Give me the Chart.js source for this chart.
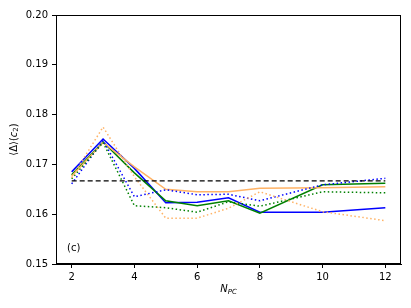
<!DOCTYPE html>
<html>
<head>
<meta charset="utf-8">
<script src="https://cdn.jsdelivr.net/npm/chart.js@4/dist/chart.umd.min.js"></script>
<style>
  html, body { margin: 0; padding: 0; background: #fff; }
  canvas { display: block; }
</style>
</head>
<body>
<canvas id="chartCanvas" width="411" height="308"></canvas>
<script>
// Daten
const nPC = [2, 3, 4, 5, 6, 7, 8, 10, 12];
const blueSolid   = [0.1685, 0.1751, 0.1692, 0.1623, 0.1624, 0.1633, 0.1604, 0.1604, 0.1613];
const greenSolid  = [0.1679, 0.1745, 0.1683, 0.1627, 0.1617, 0.1627, 0.1602, 0.1659, 0.1662];
const orangeSolid = [0.1676, 0.1744, 0.1695, 0.1650, 0.1645, 0.1645, 0.1652, 0.1653, 0.1655];
const blueDotted   = [0.1661, 0.1748, 0.1635, 0.1649, 0.1639, 0.1640, 0.1627, 0.1659, 0.1672];
const greenDotted  = [0.1671, 0.1744, 0.1617, 0.1613, 0.1604, 0.1625, 0.1616, 0.1645, 0.1643];
const orangeDotted = [0.1673, 0.1775, 0.1675, 0.1592, 0.1592, 0.1612, 0.1645, 0.1605, 0.1587];
const refX = [2, 12];
const refY = [0.1667, 0.1667];
const xTicks = [2, 4, 6, 8, 10, 12];
const yTicks = [0.15, 0.16, 0.17, 0.18, 0.19, 0.20];

const FONT = 'DejaVu Sans';
const toPts = (xs, ys) => xs.map((x, i) => ({ x, y: ys[i] }));

function line(data, color, dash) {
  return {
    data: toPts(nPC, data),
    borderColor: color,
    borderWidth: 1.5,
    borderDash: dash,
    pointRadius: 0,
    tension: 0,
    fill: false
  };
}

// Rahmen, Achsentitel und Panel-Label
const extras = {
  id: 'extras',
  afterDraw(c) {
    const ctx = c.ctx;
    const a = c.chartArea;
    ctx.save();
    ctx.strokeStyle = '#000';
    ctx.lineWidth = 1;
    ctx.strokeRect(a.left + 0.5, a.top + 0.5, a.right - a.left - 1, a.bottom - a.top - 1);

    ctx.fillStyle = '#000';
    ctx.textBaseline = 'middle';

    // x-Titel: N_PC
    const xc = (a.left + a.right) / 2;
    ctx.font = 'italic 10px ' + FONT;
    const wN = ctx.measureText('N').width;
    ctx.font = 'italic 7px ' + FONT;
    const wS = ctx.measureText('PC').width;
    let x0 = xc - (wN + wS) / 2;
    ctx.textAlign = 'left';
    ctx.font = 'italic 10px ' + FONT;
    ctx.fillText('N', x0, 289);
    ctx.font = 'italic 7px ' + FONT;
    ctx.fillText('PC', x0 + wN, 292);

    // y-Titel: ⟨Δ⟩(c2)
    ctx.translate(14, (a.top + a.bottom) / 2);
    ctx.rotate(-Math.PI / 2);
    const parts = [
      ['⟨Δ⟩(', '10px ' + FONT, 0],
      ['c', 'italic 10px ' + FONT, 0],
      ['2', '7px ' + FONT, 2.5],
      [')', '10px ' + FONT, 0]
    ];
    let total = 0;
    parts.forEach(p => { ctx.font = p[1]; total += ctx.measureText(p[0]).width; });
    let px = -total / 2;
    parts.forEach(p => {
      ctx.font = p[1];
      ctx.fillText(p[0], px, p[2]);
      px += ctx.measureText(p[0]).width;
    });
    ctx.restore();

    ctx.save();
    ctx.fillStyle = '#000';
    ctx.font = '10px ' + FONT;
    ctx.textBaseline = 'middle';
    ctx.fillText('(c)', a.left + 11, 248);
    ctx.restore();
  }
};

const ctx = document.getElementById('chartCanvas').getContext('2d');
new Chart(ctx, {
  type: 'line',
  data: {
    datasets: [
      {
        data: toPts(refX, refY),
        borderColor: '#000',
        borderWidth: 1.3,
        borderDash: [5, 3],
        pointRadius: 0,
        fill: false
      },
      line(orangeDotted, '#ffb366', [1.5, 2.5]),
      line(greenDotted, '#008000', [1.5, 2.5]),
      line(blueDotted, '#0000ff', [1.5, 2.5]),
      line(orangeSolid, '#ffb366', []),
      line(greenSolid, '#008000', []),
      line(blueSolid, '#0000ff', [])
    ]
  },
  options: {
    responsive: false,
    animation: false,
    layout: { padding: { top: 15, right: 10, left: 0, bottom: 0 } },
    plugins: {
      legend: { display: false },
      tooltip: { enabled: false }
    },
    scales: {
      x: {
        type: 'linear',
        min: 1.5,
        max: 12.5,
        afterBuildTicks: s => { s.ticks = xTicks.map(v => ({ value: v })); },
        afterFit: s => { s.height = 44; },
        grid: { drawOnChartArea: false, tickLength: 4, color: '#000' },
        border: { color: '#000' },
        ticks: {
          color: '#000',
          font: { family: FONT, size: 10 },
          padding: 3,
          maxRotation: 0
        }
      },
      y: {
        type: 'linear',
        min: 0.15,
        max: 0.20,
        afterBuildTicks: s => { s.ticks = yTicks.map(v => ({ value: v })); },
        afterFit: s => { s.width = 56; },
        grid: { drawOnChartArea: false, tickLength: 4, color: '#000' },
        border: { color: '#000' },
        ticks: {
          color: '#000',
          font: { family: FONT, size: 10 },
          padding: 4,
          callback: v => v.toFixed(2)
        }
      }
    }
  },
  plugins: [extras]
});
</script>
</body>
</html>
